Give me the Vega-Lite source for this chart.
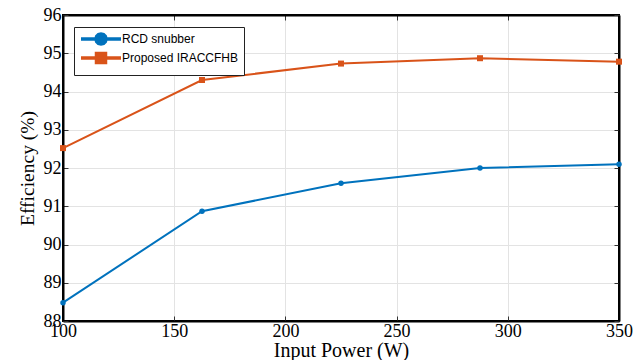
{
  "$schema": "https://vega.github.io/schema/vega-lite/v6.json",
  "width": 556,
  "height": 306,
  "autosize": {"type": "none"},
  "padding": {"left": 63, "top": 15, "right": 24, "bottom": 39},
  "background": "white",
  "config": {
    "view": {"stroke": "black", "strokeWidth": 2},
    "axis": {
      "labelFont": "Liberation Serif",
      "labelFontSize": 18,
      "labelColor": "black",
      "titleFont": "Liberation Serif",
      "titleFontSize": 20,
      "titleFontWeight": "normal",
      "titleColor": "black",
      "domainColor": "black",
      "domainWidth": 2,
      "tickColor": "#333333",
      "tickWidth": 1,
      "tickSize": -5,
      "gridColor": "#e3e3e3",
      "gridWidth": 1
    }
  },
  "data": {
    "values": [
      {"power": 100, "eff": 88.48, "series": "RCD snubber"},
      {"power": 162.5, "eff": 90.87, "series": "RCD snubber"},
      {"power": 225, "eff": 91.6, "series": "RCD snubber"},
      {"power": 287.5, "eff": 92.0, "series": "RCD snubber"},
      {"power": 350, "eff": 92.1, "series": "RCD snubber"},
      {"power": 100, "eff": 92.52, "series": "Proposed IRACCFHB"},
      {"power": 162.5, "eff": 94.3, "series": "Proposed IRACCFHB"},
      {"power": 225, "eff": 94.73, "series": "Proposed IRACCFHB"},
      {"power": 287.5, "eff": 94.87, "series": "Proposed IRACCFHB"},
      {"power": 350, "eff": 94.78, "series": "Proposed IRACCFHB"}
    ]
  },
  "layer": [
    {
      "mark": {"type": "line", "strokeWidth": 2, "clip": false},
      "encoding": {
        "x": {
          "field": "power", "type": "quantitative",
          "scale": {"domain": [100, 350], "nice": false, "zero": false},
          "axis": {"orient": "bottom", "values": [100, 150, 200, 250, 300, 350], "grid": true, "labelPadding": 6, "title": "Input Power (W)", "titlePadding": 0, "labelFlush": false}
        },
        "y": {
          "field": "eff", "type": "quantitative",
          "scale": {"domain": [88, 96], "nice": false, "zero": false},
          "axis": {"orient": "left", "values": [88, 89, 90, 91, 92, 93, 94, 95, 96], "grid": true, "labelPadding": 7, "title": "Efficiency (%)", "titleFontSize": 19.5, "titlePadding": 6}
        },
        "color": {
          "field": "series", "type": "nominal",
          "scale": {"domain": ["RCD snubber", "Proposed IRACCFHB"], "range": ["#0072BD", "#D95319"]},
          "legend": {
            "title": null,
            "orient": "none",
            "legendX": 11,
            "legendY": 12,
            "strokeColor": "#222222",
            "fillColor": "white",
            "padding": 5,
            "labelFont": "Liberation Sans",
            "labelFontSize": 12,
            "labelColor": "black",
            "symbolSize": 100,
            "symbolStrokeWidth": 3.5,
            "symbolOffset": 15,
            "labelOffset": 14,
            "rowPadding": -6,
            "encode": {
              "symbols": {
                "update": {
                  "shape": {"signal": "datum.value === 'RCD snubber' ? 'M-4,0H4M1,0L0.87,0.5L0.5,0.87L0,1L-0.5,0.87L-0.87,0.5L-1,0L-0.87,-0.5L-0.5,-0.87L0,-1L0.5,-0.87L0.87,-0.5Z' : 'M-4,0H4M-0.9,-0.9H0.9V0.9H-0.9Z'"},
                  "fill": {"scale": "color", "field": "value"},
                  "fillOpacity": {"value": 1},
                  "stroke": {"scale": "color", "field": "value"}
                }
              }
            }
          }
        }
      }
    },
    {
      "transform": [{"filter": "datum.series === 'RCD snubber'"}],
      "mark": {"type": "point", "filled": true, "opacity": 1, "clip": false, "shape": "circle", "size": 30},
      "encoding": {
        "x": {
          "field": "power", "type": "quantitative",
          "axis": {"orient": "top", "values": [100, 150, 200, 250, 300, 350], "labels": false, "grid": false, "title": null, "domain": true}
        },
        "y": {
          "field": "eff", "type": "quantitative",
          "axis": {"orient": "right", "values": [88, 89, 90, 91, 92, 93, 94, 95, 96], "labels": false, "grid": false, "title": null, "domain": true}
        },
        "color": {"field": "series", "type": "nominal", "legend": null}
      }
    },
    {
      "transform": [{"filter": "datum.series === 'Proposed IRACCFHB'"}],
      "mark": {"type": "point", "filled": true, "opacity": 1, "clip": false, "shape": "square", "size": 36},
      "encoding": {
        "x": {"field": "power", "type": "quantitative", "axis": null},
        "y": {"field": "eff", "type": "quantitative", "axis": null},
        "color": {"field": "series", "type": "nominal", "legend": null}
      }
    }
  ],
  "resolve": {"axis": {"x": "independent", "y": "independent"}}
}
